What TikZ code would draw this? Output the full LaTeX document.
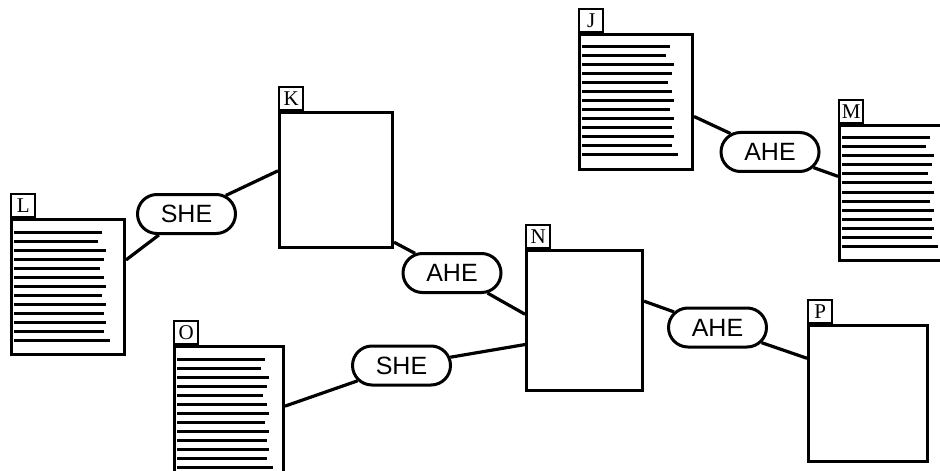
\documentclass[tikz,border=0pt]{standalone}
\usepackage{fontspec}
\setmainfont{Liberation Serif}
\setsansfont{Liberation Sans}
\usetikzlibrary{positioning,shapes.misc}

\begin{document}
\begin{tikzpicture}[
  x=0.5pt, y=-0.5pt,
  doc/.style={draw, line width=1.5pt, minimum width=56.5pt, minimum height=67.5pt, inner sep=0pt, anchor=north west},
  tab/.style={draw, line width=1.2pt, minimum width=12pt, minimum height=11.5pt, inner sep=0pt, font=\rmfamily\fontsize{10.5}{10.5}\selectfont},
  pill/.style={draw, rounded rectangle, line width=1.5pt, minimum width=49pt, minimum height=19.5pt, inner sep=0pt, font=\sffamily\fontsize{12.5}{12.5}\selectfont},
  link/.style={line width=1.6pt},
  txt/.style={line width=1.5pt}
]
\useasboundingbox (0,0) rectangle (940,470);

% documents
\node[doc] (L) at (10,218) {};
\node[doc] (K) at (278,111) {};
\node[doc] (J) at (578,33) {};
\node[doc] (M) at (838,124) {};
\node[doc, minimum width=58pt, minimum height=70pt] (N) at (525,249) {};
\node[doc, minimum width=54.5pt] (O) at (173,345) {};
\node[doc, minimum width=59.5pt, minimum height=68pt] (P) at (807,324) {};

\foreach \d in {L,K,J,M,N,O,P}
  \node[tab, above right=0pt of \d.north west] (\d-tab) {\d};

% text lines
\foreach \d in {L,J,M,O}
  \foreach \i/\w in {0/88,1/84,2/92,3/90,4/86,5/90,6/92,7/88,8/92,9/90,10/92,11/90,12/96}
    \draw[txt] ([shift={(4,14+9*\i)}]\d.north west) -- ++(\w,0);

% links
\node[pill] (she-top) at (186.5,214) {SHE};
\node[pill] (ahe-mid) at (452,273) {AHE};
\node[pill] (she-low) at (401.5,365.5) {SHE};
\node[pill] (ahe-right) at (717.5,327.5) {AHE};
\node[pill] (ahe-top) at (770,152) {AHE};

\draw[link] (L.25) -- (she-top);
\draw[link] (she-top) -- (K.171);
\draw[link] (K.-47) -- (ahe-mid);
\draw[link] (ahe-mid) -- (N.174);
\draw[link] (O.8) -- (she-low);
\draw[link] (she-low) -- (N.202);
\draw[link] (N.18) -- (ahe-right);
\draw[link] (ahe-right) -- (P.150);
\draw[link] (J.-14) -- (ahe-top);
\draw[link] (ahe-top) -- (M.164);
\end{tikzpicture}
\end{document}
